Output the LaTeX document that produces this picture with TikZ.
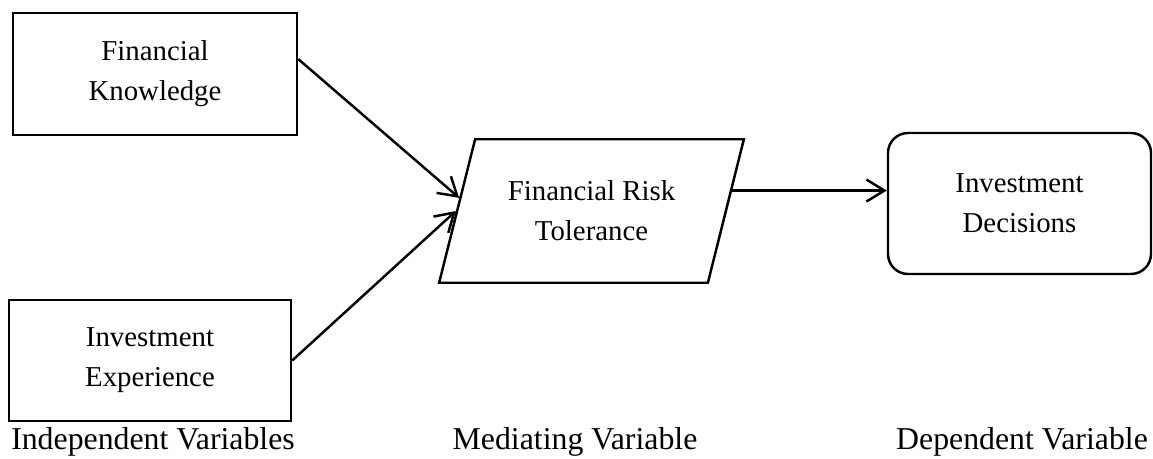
\documentclass[tikz,border=0pt]{standalone}
\usepackage{fontspec}
\setmainfont{Liberation Serif}
\usetikzlibrary{shapes,arrows.meta,calc}

\begin{document}
\begin{tikzpicture}
\tikzstyle{var}=[rectangle,draw,line width=1.4pt,align=center,font=\fontsize{16.4}{22.8}\selectfont]
\tikzstyle{caption}=[anchor=base,font=\fontsize{18.1}{21}\selectfont]
\tikzstyle{link}=[line width=1.4pt,-{Straight Barb[length=3.6mm,width=4.4mm]}]
\useasboundingbox (0,0) rectangle (23.06,9.18);
\node[var,minimum width=5.68cm,minimum height=2.44cm] (fk) at (3.10,7.70) {Financial\\Knowledge};
\node[var,minimum width=5.64cm,minimum height=2.42cm] (ie) at (3.00,1.97) {Investment\\Experience};
\node[var,trapezium,trapezium left angle=69,trapezium right angle=111,trapezium stretches=true,minimum width=6.1cm,minimum height=2.87cm] (frt) at (11.83,4.96) {Financial Risk\\Tolerance};
\node[var,rounded corners=0.4cm,minimum width=5.26cm,minimum height=2.82cm] (id) at (20.39,5.11) {Investment\\Decisions};
\node[caption] (iv) at (3.06,0.18) {Independent Variables};
\node[caption] (mv) at (11.50,0.18) {Mediating Variable};
\node[caption] (dv) at (20.44,0.18) {Dependent Variable};
\draw[link] ($(fk.north east)!0.38!(fk.south east)$) -- ($(frt.top left corner)!0.41!(frt.bottom left corner)$);
\draw[link] (ie.east) -- (frt.west);
\coordinate (frtout) at ($(frt.top right corner)!0.36!(frt.bottom right corner)$);
\draw[link] (frtout) -- (frtout -| id.west);
\end{tikzpicture}
\end{document}
